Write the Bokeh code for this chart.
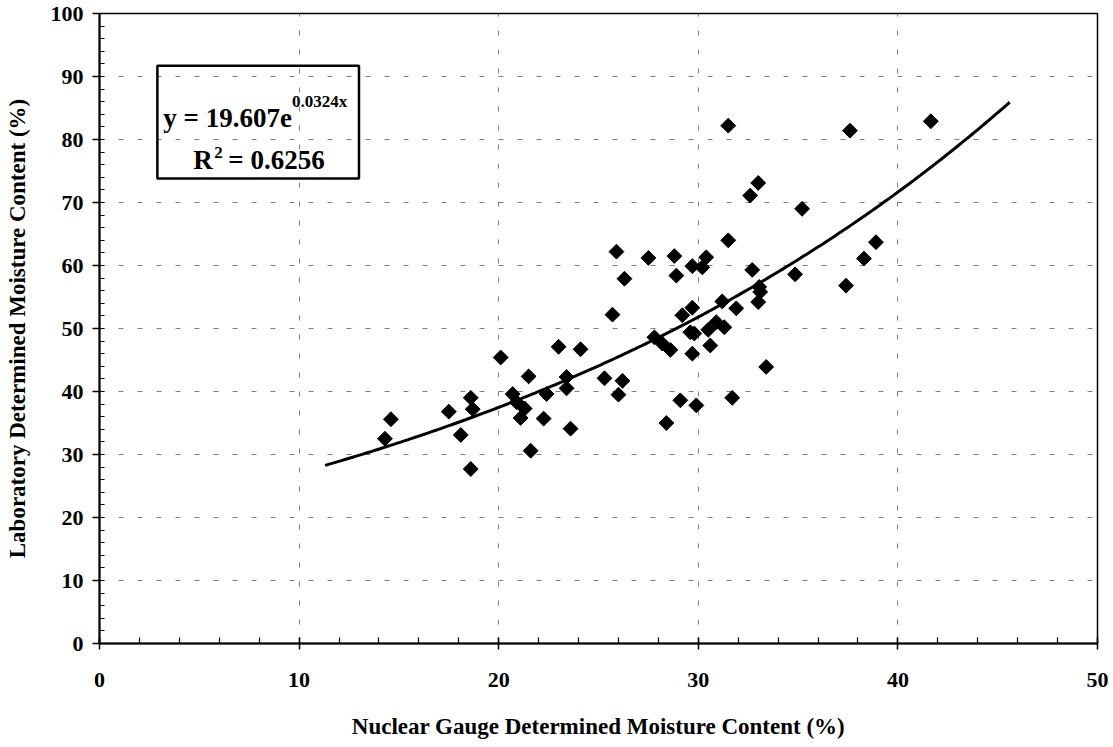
import numpy as np
from bokeh.plotting import figure
from bokeh.models import Range1d, SingleIntervalTicker, BoxAnnotation, Label, ColumnDataSource
from bokeh.embed import file_html
from bokeh.resources import INLINE

# ---- data ----
nuclear_moisture = [14.3, 14.6, 17.5, 18.1, 18.6, 18.7, 18.6, 20.1, 20.7, 20.9,
                    21.5, 21.3, 21.1, 21.6, 22.25, 22.4, 23.0, 23.4, 23.4, 23.6,
                    24.1, 25.3, 26.2, 26.0, 25.7, 25.9, 26.3, 27.5, 27.8, 28.2,
                    28.6, 28.8, 28.9, 29.2, 29.7, 29.6, 29.8, 29.7, 29.7, 29.1,
                    29.9, 28.4, 30.2, 30.4, 30.5, 30.9, 31.3, 30.6, 31.2, 31.5,
                    31.5, 31.7, 31.9, 32.6, 33.0, 32.7, 33.05, 33.1, 33.0, 33.4,
                    34.85, 35.2, 37.4, 37.6, 38.3, 38.9, 41.65]
lab_moisture = [32.5, 35.6, 36.8, 33.1, 39.0, 37.2, 27.7, 45.4, 39.6, 38.3,
                42.4, 37.3, 35.8, 30.6, 35.7, 39.6, 47.1, 42.3, 40.5, 34.1,
                46.7, 42.1, 41.7, 39.5, 52.2, 62.2, 57.9, 61.2, 48.6, 47.6,
                46.6, 61.5, 58.4, 52.1, 53.3, 49.4, 49.2, 46.0, 59.9, 38.6,
                37.8, 35.0, 59.7, 61.3, 49.8, 51.0, 50.2, 47.3, 54.3, 64.0,
                82.2, 39.0, 53.2, 71.1, 73.1, 59.3, 56.6, 55.8, 54.2, 43.9,
                58.6, 69.0, 56.8, 81.4, 61.1, 63.7, 82.9]

# exponential trendline y = a * exp(b x), as printed on the chart
trend_a = 19.607
trend_b = 0.0324
trend_x_start = 11.3
trend_x_end = 45.6
r_squared = "0.6256"

x_ticks = [0, 10, 20, 30, 40, 50]
y_ticks = [0, 10, 20, 30, 40, 50, 60, 70, 80, 90, 100]

FONT = "Liberation Serif"

p = figure(width=1113, height=747, output_backend="svg", toolbar_location=None,
           x_range=Range1d(0, 50), y_range=Range1d(0, 100),
           min_border_left=99, min_border_right=16, min_border_top=13, min_border_bottom=104,
           background_fill_color="white", border_fill_color="white")

p.outline_line_color = "black"
p.outline_line_width = 1.5
p.outline_line_alpha = 1

# axes
p.xaxis.ticker = SingleIntervalTicker(interval=10, num_minor_ticks=5)
p.yaxis.ticker = SingleIntervalTicker(interval=10, num_minor_ticks=5)
for ax in (p.xaxis[0], p.yaxis[0]):
    ax.axis_line_color = "black"
    ax.axis_line_width = 2
    ax.major_tick_line_color = "black"
    ax.minor_tick_line_color = "black"
    ax.major_tick_line_width = 1.5
    ax.minor_tick_line_width = 1.2
    ax.major_label_text_font = FONT
    ax.major_label_text_font_style = "bold"
    ax.major_label_text_font_size = "22px"
    ax.major_label_text_color = "black"
    ax.axis_label_text_font = FONT
    ax.axis_label_text_font_style = "bold"
    ax.axis_label_text_font_size = "23px"
    ax.axis_label_text_color = "black"

p.xaxis.major_tick_in = 6
p.xaxis.major_tick_out = 6
p.xaxis.minor_tick_in = 6
p.xaxis.minor_tick_out = 0
p.xaxis.major_label_standoff = 23
p.xaxis.axis_label_standoff = 24
p.xaxis.axis_label = "Nuclear Gauge Determined Moisture Content (%)"

p.yaxis.major_tick_in = 0
p.yaxis.major_tick_out = 7
p.yaxis.minor_tick_in = 5
p.yaxis.minor_tick_out = 0
p.yaxis.major_label_standoff = 9
p.yaxis.axis_label_standoff = 18
p.yaxis.axis_label = "Laboratory Determined Moisture Content (%)"

# grid
for g in (p.xgrid[0], p.ygrid[0]):
    g.grid_line_color = "#808080"
    g.grid_line_width = 1
    g.grid_line_dash = "5 14"

# points
src = ColumnDataSource(dict(x=nuclear_moisture, y=lab_moisture))
p.scatter("x", "y", source=src, marker="square", angle=np.pi / 4, size=10.5,
          fill_color="black", line_color="black", line_width=1)

# trendline
tx = np.linspace(trend_x_start, trend_x_end, 200)
ty = trend_a * np.exp(trend_b * tx)
p.line(tx, ty, line_color="black", line_width=3)

# equation box
p.add_layout(BoxAnnotation(left=2.9, right=13.0, bottom=73.8, top=91.7,
                           fill_alpha=0, line_color="black", line_alpha=1.0, line_width=2.5))

def lab(x, y, text, size):
    p.add_layout(Label(x=x, y=y, text=text, text_font=FONT, text_font_style="bold",
                       text_font_size=size, text_color="black",
                       text_align="left", text_baseline="alphabetic"))

lab(3.2, 83.4, "y = %.3fe" % trend_a, "27px")
lab(9.65, 86.0, "%.4fx" % trend_b, "17px")
lab(4.7, 76.8, "R", "27px")
lab(5.75, 78.0, "2", "17px")
lab(6.45, 76.8, "= " + r_squared, "27px")

open("out.html", "w").write(file_html(p, INLINE))
